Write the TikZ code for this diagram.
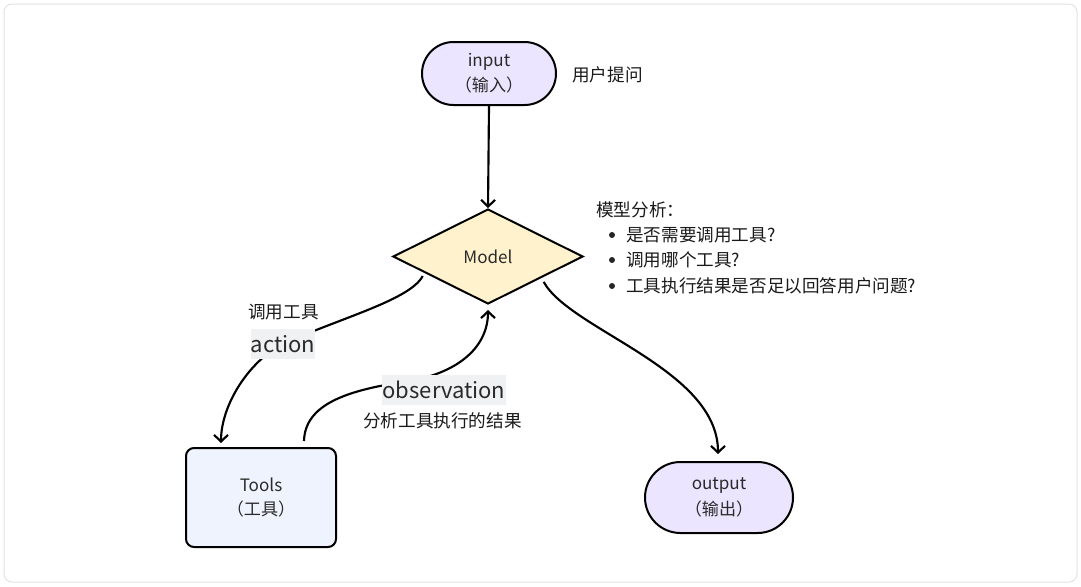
\documentclass[tikz,border=0pt]{standalone}
\usepackage{fontspec}
\setmainfont{Noto Sans CJK SC}
\usetikzlibrary{arrows.meta,calc,shapes.geometric,backgrounds}
\definecolor{txt}{HTML}{2A2A2A}
\definecolor{fTerm}{HTML}{ECE5FF}
\definecolor{fModel}{HTML}{FFF2CC}
\definecolor{fTool}{HTML}{EEF3FD}
\definecolor{fLbl}{HTML}{F0F1F3}
\definecolor{cFrame}{HTML}{E2E2E2}
\tikzset{term/.style={draw=black, line width=1.5pt, fill=fTerm, rounded corners=#1, text=txt, align=center, inner sep=0pt, font=\fontsize{12.8pt}{19pt}\selectfont},
  decide/.style={diamond, draw=black, line width=1.5pt, fill=fModel, text=txt, inner sep=0pt, minimum width=142.5pt, minimum height=71.25pt, font=\fontsize{12.8pt}{14pt}\selectfont},
  toolbox/.style={draw=black, line width=1.5pt, fill=fTool, rounded corners=6pt, text=txt, align=center, inner sep=0pt, minimum width=112.5pt, minimum height=74.25pt, font=\fontsize{12.8pt}{18.5pt}\selectfont},
  lbl/.style={fill=fLbl, text=txt, inner sep=0pt, font=\fontsize{16.5pt}{18pt}\selectfont},
  flow/.style={-{Straight Barb[length=5pt,width=10.5pt]}, line width=1.6pt, black},
  note/.style={text=black!90, inner sep=0pt, font=\fontsize{13.2pt}{15pt}\selectfont},
  dotmark/.style={circle, fill=black!85, inner sep=0pt, minimum size=4.5pt}}
\begin{document}
\begin{tikzpicture}[x=0.75pt,y=-0.75pt]
\useasboundingbox (0,0) rectangle (1081,586);
\draw[cFrame, line width=0.75pt, rounded corners=6pt] (4,4) rectangle (1077,582);
% ---- nodes ----
\node[term=23.6pt, minimum width=100.5pt, minimum height=47.25pt] (in) at (489,73.5) {input\\（输入）};
\node[note, anchor=west] (ask) at (572,75) {用户提问};
\node[decide] (model) at (488,256.5) {Model};
\node[note, anchor=west] (anl) at (596,210) {模型分析：};
\foreach \t/\y [count=\i] in {是否需要调用工具?/235, 调用哪个工具?/260, 工具执行结果是否足以回答用户问题?/286}{
  \node[dotmark] (dot\i) at (612,\y) {};
  \node[note, anchor=west] (q\i) at (626,\y) {\t};}
\node[toolbox] (tools) at (261,497.5) {Tools\\（工具）};
\node[term=26.6pt, minimum width=111pt, minimum height=53.25pt] (out) at (719,497.5) {output\\（输出）};
% ---- edge labels ----
\node[note] (callt) at (283.5,312) {调用工具};
\node[lbl, minimum width=46.5pt, minimum height=23pt] (act) at (283,344) {action};
\node[lbl, minimum width=93pt, minimum height=22.5pt] (obs) at (444,390) {observation};
\node[note] (res) at (442.5,421) {分析工具执行的结果};
% ---- connectors ----
\begin{scope}[on background layer]
\draw[flow] (in.south) -- (model.north);
\draw[flow] ($($(model.west)!0.32!(model.south)$)+(0,4)$) .. controls (410,300) and (340,318) .. (act.center)
  .. controls (249,361) and ($(tools.north west)+(36,-42)$) .. ($(tools.north west)+(36,-4)$);
\draw[flow] ($(tools.north west)+(119,-6)$) .. controls (305,405) and (345,390) .. (410,381)
  .. controls (460,372) and ($(model.south)+(0,41)$) .. ($(model.south)+(0,5)$);
\draw[flow] ($($(model.east)!0.42!(model.south)$)+(0,5)$) .. controls (570,330) and ($(out.north)+(-1,-92)$) .. ($(out.north)+(-1,-7)$);
\end{scope}
\end{tikzpicture}
\end{document}
